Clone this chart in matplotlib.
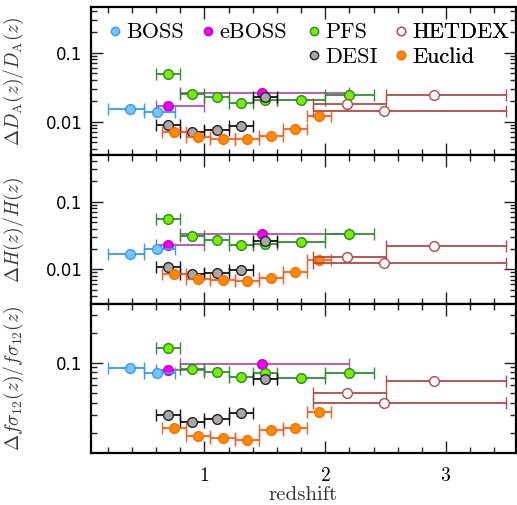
import matplotlib
matplotlib.use("Agg")
import matplotlib.pyplot as plt
from matplotlib.lines import Line2D
from matplotlib.ticker import LogLocator, FixedLocator, MultipleLocator, NullFormatter, FixedFormatter
import numpy as np

# ---------------- data ----------------
boss_z = [0.383, 0.611]
boss_zmin = [0.2, 0.5]
boss_zmax = [0.5, 0.755]
boss_da = [0.0151, 0.0138]
boss_h = [0.0167, 0.0202]
boss_f = [0.0885, 0.0794]

eboss_z = [0.70, 1.48]
eboss_zmin = [0.6, 0.8]
eboss_zmax = [1.0, 2.2]
eboss_da = [0.0169, 0.0258]
eboss_h = [0.0229, 0.0337]
eboss_f = [0.0851, 0.0963]

pfs_z = [0.7, 0.9, 1.1, 1.3, 1.5, 1.8, 2.2]
pfs_zmin = [0.6, 0.8, 1.0, 1.2, 1.4, 1.6, 2.0]
pfs_zmax = [0.8, 1.0, 1.2, 1.4, 1.6, 2.0, 2.4]
pfs_da = [0.0491, 0.0252, 0.0228, 0.0188, 0.0206, 0.0206, 0.0244]
pfs_h = [0.0561, 0.0308, 0.0268, 0.0226, 0.0239, 0.0254, 0.0333]
pfs_f = [0.141, 0.0859, 0.0801, 0.0714, 0.0788, 0.0698, 0.0794]

desi_z = [0.7, 0.9, 1.1, 1.3, 1.5]
desi_zmin = [0.6, 0.8, 1.0, 1.2, 1.4]
desi_zmax = [0.8, 1.0, 1.2, 1.4, 1.6]
desi_da = [0.00906, 0.0071, 0.0075, 0.00867, 0.0230]
desi_h = [0.0109, 0.0086, 0.0088, 0.0099, 0.0259]
desi_f = [0.0302, 0.0255, 0.0273, 0.0314, 0.0687]

euclid_z = [0.75, 0.95, 1.15, 1.35, 1.55, 1.75, 1.95]
euclid_zmin = [0.65, 0.85, 1.05, 1.25, 1.45, 1.65, 1.85]
euclid_zmax = [0.85, 1.05, 1.25, 1.45, 1.65, 1.85, 2.05]
euclid_da = [0.00716, 0.00607, 0.00568, 0.00568, 0.00621, 0.00783, 0.0122]
euclid_h = [0.0085, 0.0072, 0.00687, 0.00679, 0.00743, 0.0092, 0.0139]
euclid_f = [0.0224, 0.0185, 0.0175, 0.0170, 0.0214, 0.0221, 0.0319]

hetdex_z = [2.18, 2.49, 2.90]
hetdex_zmin = [1.9, 1.9, 2.5]
hetdex_zmax = [2.5, 3.5, 3.5]
hetdex_da = [0.0179, 0.0143, 0.0242]
hetdex_h = [0.0150, 0.0125, 0.0221]
hetdex_f = [0.0498, 0.0393, 0.0656]

ylabels = [r'$\Delta D_{\rm A}(z)/D_{\rm A}(z)$',
           r'$\Delta H(z)/H(z)$',
           r'$\Delta f\sigma_{12}(z)/f\sigma_{12}(z)$']

# ---------------- style ----------------
plt.rcParams['mathtext.fontset'] = 'cm'
plt.rcParams['font.family'] = 'serif'
plt.rcParams['font.serif'] = ['cmr10', 'DejaVu Serif']
plt.rcParams['axes.formatter.use_mathtext'] = True

surveys = [
    # name, z, zmin, zmax, (da,h,f), face, edge, barcolor, zorder
    ('eBOSS', eboss_z, eboss_zmin, eboss_zmax, (eboss_da, eboss_h, eboss_f), '#ee00ee', '#cc00cc', '#b050b0', 3),
    ('PFS', pfs_z, pfs_zmin, pfs_zmax, (pfs_da, pfs_h, pfs_f), '#77ee00', '#2a8a2a', '#2f8f2f', 4),
    ('DESI', desi_z, desi_zmin, desi_zmax, (desi_da, desi_h, desi_f), '#a8a8a8', '#222222', '#111111', 5),
    ('Euclid', euclid_z, euclid_zmin, euclid_zmax, (euclid_da, euclid_h, euclid_f), '#ff8c00', '#ff6a00', '#ff5a20', 6),
    ('BOSS', boss_z, boss_zmin, boss_zmax, (boss_da, boss_h, boss_f), '#77c4ff', '#3399ff', '#3399ff', 7),
    ('HETDEX', hetdex_z, hetdex_zmin, hetdex_zmax, (hetdex_da, hetdex_h, hetdex_f), 'white', '#b84848', '#b84848', 8),
]

W, H = 517, 505
fig = plt.figure(figsize=(W / 100, H / 100), dpi=100)

left_px, right_px = 90.7, 516.0
bounds = [(6.7, 155.4), (155.4, 304.1), (304.1, 452.8)]
ylims = [(0.00325, 0.464), (0.00306, 0.484), (0.01256, 0.386)]

axes = []
for i, (t, b) in enumerate(bounds):
    ax = fig.add_axes([left_px / W, 1 - b / H, (right_px - left_px) / W, (b - t) / H])
    axes.append(ax)
    ax.set_yscale('log')
    ax.set_xlim(0.058, 3.58)
    ax.set_ylim(*ylims[i])
    for j, (name, z, zmin, zmax, vals, fc, ec, bc, zo) in enumerate(surveys):
        z = np.asarray(z)
        xerr = [z - np.asarray(zmin), np.asarray(zmax) - z]
        ax.errorbar(z, vals[i], xerr=xerr, fmt='o', ms=7.0, mfc=fc, mec=ec, mew=1.0,
                    ecolor=bc, elinewidth=1.3, capsize=4.2, capthick=1.3, zorder=zo)
    ax.xaxis.set_major_locator(MultipleLocator(1))
    ax.xaxis.set_minor_locator(MultipleLocator(0.2))
    ax.yaxis.set_minor_locator(LogLocator(base=10, subs=np.arange(2, 10), numticks=20))
    ax.yaxis.set_minor_formatter(NullFormatter())
    ax.tick_params(which='both', direction='in', top=True, right=True, width=1.0, color='#222222')
    ax.tick_params(which='major', length=8.5)
    ax.tick_params(which='minor', length=4.5)
    for sp in ax.spines.values():
        sp.set_linewidth(1.6)
    ax.yaxis.set_major_locator(FixedLocator([0.001, 0.01, 0.1, 1.0]))
    ax.yaxis.set_major_formatter(FixedFormatter(['', '0.01', '0.1', ''] if i < 2 else ['', '', '0.1', '']))
    for lab in ax.get_yticklabels():
        lab.set_family('DejaVu Sans')
    ax.tick_params(axis='y', labelsize=12, pad=6)
    ax.set_ylabel(ylabels[i], fontsize=14, color='#3a3a3a')
    if i < 2:
        ax.tick_params(axis='x', labelbottom=False)
    else:
        ax.tick_params(axis='x', labelsize=14, pad=10)
        ax.set_xlabel('redshift', fontsize=15, color='#333333', labelpad=1)

for ax in axes:
    ax.yaxis.set_label_coords(-0.152, 0.5)

# legend: four columns placed individually
style = {name: (fc, ec) for (name, z, zmin, zmax, vals, fc, ec, bc, zo) in surveys}
def h(name):
    fc, ec = style[name]
    return Line2D([], [], ls='none', marker='o', ms=6.0, mfc=fc, mec=ec, mew=1.0)

legend_cols = [['BOSS'], ['eBOSS'], ['PFS', 'DESI'], ['HETDEX', 'Euclid']]
legend_x = [0.0419, 0.2605, 0.5095, 0.715]
for names, lx in zip(legend_cols, legend_x):
    lg = axes[0].legend([h(n) for n in names], names, loc='upper left',
                        bbox_to_anchor=(lx, 0.892), frameon=False, fontsize=16,
                        handlelength=0.6, handletextpad=0.2, labelspacing=0.22,
                        borderpad=0.0, borderaxespad=0.0)
    axes[0].add_artist(lg)

fig.savefig('out.png', dpi=100)
